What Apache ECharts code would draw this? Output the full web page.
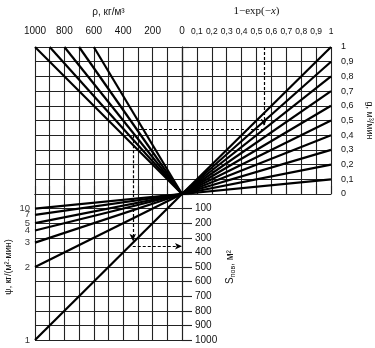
<!DOCTYPE html>
<html><head><meta charset="utf-8">
<script src="https://cdn.jsdelivr.net/npm/echarts@6/dist/echarts.min.js"></script>
<style>html,body{margin:0;padding:0;background:#fff}#c{width:375px;height:348px}</style>
</head><body><div id="c"></div>
<script>
// ---- data ----
const rhoLines = [1000, 900, 800, 700, 600];          // top-left rays end at ρ (top edge)
const gLines = [1, 0.9, 0.8, 0.7, 0.6, 0.5, 0.4, 0.3, 0.2, 0.1]; // top-right rays end at g (right edge)
const psiLines = [10, 7, 5, 4, 3, 2, 1];              // bottom-left rays S = ρ/ψ
const rhoMax = 1000, expMax = 1, gMax = 1, sMax = 1000;
// example path (dashed)
const exX = 0.55, exG = 0.44, exRho = 335, exS = 358;

const chart = echarts.init(document.getElementById('c'), null, {renderer: 'canvas'});
const GRID = {color: '#222', width: 1.1};
const LINE = {color: '#000', width: 2.2};
const DASH = {color: '#000', width: 1.2, type: [3, 2]};
const font = 'Liberation Sans';
const comma = v => String(Math.round(v * 10) / 10).replace('.', ',');
const psiLabelShift = {10: -4, 7: -1, 5: 0, 4: 3, 3: 2, 2: 0, 1: 1};

const series = [];
rhoLines.forEach(r => series.push({type: 'line', xAxisIndex: 0, yAxisIndex: 0, data: [[0, 0], [r, gMax]],
  symbol: 'none', lineStyle: LINE, silent: true, z: 3}));
gLines.forEach(g => series.push({type: 'line', xAxisIndex: 1, yAxisIndex: 1, data: [[0, 0], [expMax, g]],
  symbol: 'none', lineStyle: LINE, silent: true, z: 3}));
psiLines.forEach(p => series.push({type: 'line', xAxisIndex: 2, yAxisIndex: 2,
  data: [[0, 0], [rhoMax, rhoMax / p]], symbol: 'none', lineStyle: LINE, silent: true, z: 3}));
series.push({type: 'scatter', xAxisIndex: 2, yAxisIndex: 2, silent: true, clip: false, z: 5,
  symbolSize: 0.1, itemStyle: {color: 'transparent'},
  data: psiLines.map(p => ({name: String(p), value: [rhoMax, rhoMax / p],
    label: {offset: [0, psiLabelShift[p] || 0]}})),
  label: {show: true, position: 'left', distance: 5, formatter: '{b}',
    fontFamily: font, fontSize: 9.5, color: '#000'},
  labelLayout: {hideOverlap: false}});

function ml(segs) {
  return {silent: true, animation: false, label: {show: false}, lineStyle: DASH, symbolSize: [5, 7],
    data: segs.map(s => [{coord: s[0], symbol: 'none'}, {coord: s[1], symbol: s[2] ? 'arrow' : 'none'}])};
}
series.push({type: 'line', xAxisIndex: 1, yAxisIndex: 1, data: [], z: 4,
  markLine: ml([[[exX, gMax], [exX, exG + 0.025], true], [[exX, exG], [0, exG], false]])});
series.push({type: 'line', xAxisIndex: 0, yAxisIndex: 0, data: [], z: 4,
  markLine: ml([[[0, exG], [exG * 700, exG], false], [[exRho, exG - 0.04], [exRho, 0], false]])});
series.push({type: 'line', xAxisIndex: 2, yAxisIndex: 2, data: [], z: 4,
  markLine: ml([[[exRho, 0], [exRho, exRho - 15], true], [[exRho, exS], [0, exS], true]])});

chart.setOption({
  animation: false,
  backgroundColor: '#fff',
  grid: [
    {left: 35, top: 47, width: 147, height: 147},
    {left: 182, top: 47, width: 151, height: 147},
    {left: 35, top: 194, width: 147, height: 146}
  ],
  xAxis: [
    {gridIndex: 0, type: 'value', position: 'top', inverse: true, min: 0, max: rhoMax, interval: 100,
      name: 'ρ, кг/м³', nameLocation: 'middle', nameGap: 30,
      nameTextStyle: {fontFamily: font, fontSize: 10, color: '#111'},
      axisLine: {show: true, lineStyle: GRID}, axisTick: {show: true, length: 8, lineStyle: GRID},
      axisLabel: {margin: 11, fontFamily: font, fontSize: 10, color: '#111',
        formatter: v => (v % 200 === 0 ? String(v) : '')},
      splitLine: {show: true, lineStyle: GRID}},
    {gridIndex: 1, type: 'value', position: 'top', min: 0, max: expMax, interval: 0.1,
      name: '{a|1−exp(−}{b|x}{a|)}', nameLocation: 'middle', nameGap: 30,
      nameTextStyle: {rich: {a: {fontFamily: 'Liberation Serif', fontSize: 11, color: '#111'},
        b: {fontFamily: 'Liberation Serif', fontStyle: 'italic', fontSize: 11, color: '#111'}}},
      axisLine: {show: true, lineStyle: GRID}, axisTick: {show: true, length: 8, lineStyle: GRID},
      axisLabel: {margin: 11, fontFamily: font, fontSize: 8.5, color: '#111',
        formatter: v => (v === 0 ? '' : comma(v))},
      splitLine: {show: true, lineStyle: GRID}},
    {gridIndex: 2, type: 'value', position: 'top', inverse: true, min: 0, max: rhoMax, interval: 100,
      axisLine: {show: true, lineStyle: GRID}, axisTick: {show: false}, axisLabel: {show: false},
      splitLine: {show: true, lineStyle: GRID}}
  ],
  yAxis: [
    {gridIndex: 0, type: 'value', min: 0, max: gMax, interval: 0.1,
      axisLine: {show: true, lineStyle: GRID}, axisTick: {show: false}, axisLabel: {show: false},
      splitLine: {show: true, lineStyle: GRID}},
    {gridIndex: 1, type: 'value', position: 'right', min: 0, max: gMax, interval: 0.1,
      name: 'g, м³/мин', nameLocation: 'middle', nameGap: 34, nameRotate: -90,
      nameTextStyle: {fontFamily: font, fontSize: 9, color: '#111'},
      axisLine: {show: true, lineStyle: GRID}, axisTick: {show: true, length: 7, lineStyle: GRID},
      axisLabel: {margin: 10, fontFamily: font, fontSize: 9, color: '#111', formatter: v => comma(v),
        padding: [6, 0, 0, 0]},
      splitLine: {show: true, lineStyle: GRID}},
    {gridIndex: 2, type: 'value', position: 'right', inverse: true, min: 0, max: sMax, interval: 100,
      name: '{a|S}{b|пов}{a|, м²}', nameLocation: 'middle', nameGap: 42, nameRotate: 90,
      nameTextStyle: {rich: {a: {fontFamily: font, fontSize: 10, color: '#111'},
        b: {fontFamily: font, fontSize: 7, color: '#111', verticalAlign: 'bottom', padding: [6, 0, 0, 0]}}},
      axisLine: {show: true, lineStyle: GRID}, axisTick: {show: true, length: 10, lineStyle: GRID},
      axisLabel: {margin: 13, fontFamily: font, fontSize: 10, color: '#111',
        formatter: v => (v === 0 ? '' : String(v))},
      splitLine: {show: true, lineStyle: GRID}},
    {gridIndex: 2, type: 'value', position: 'left', inverse: true, min: 0, max: sMax, interval: 100,
      name: 'ψ, кг/(м²·мин)', nameLocation: 'middle', nameGap: 22, nameRotate: 90,
      nameTextStyle: {fontFamily: font, fontSize: 9, color: '#111'},
      axisLine: {show: false}, axisTick: {show: false}, axisLabel: {show: false}, splitLine: {show: false}}
  ],
  series: series
});
</script></body></html>
